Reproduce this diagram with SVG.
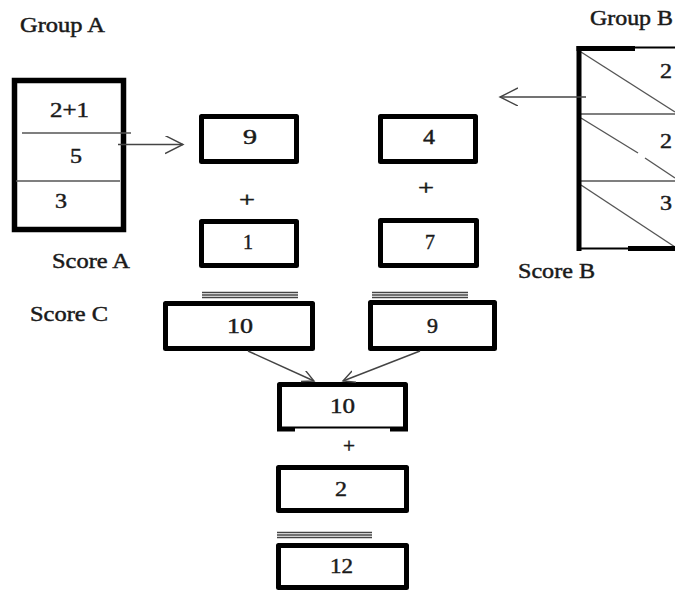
<svg xmlns="http://www.w3.org/2000/svg" width="675" height="592" viewBox="0 0 675 592">
<style>
text{font-family:"Liberation Serif","Times New Roman",serif;font-size:20px;fill:#1a1a1a;stroke:#1a1a1a;stroke-width:0.45}
.box{fill:#fff;stroke:#000;stroke-width:5;stroke-linejoin:round}
.thin{stroke:#555;stroke-width:1.4;fill:none}
.eq{stroke:#444;stroke-width:1.3}
.conn{stroke:#444;stroke-width:1.4;fill:none}
</style>
<defs>
<marker id="arr" markerWidth="20" markerHeight="20" refX="18" refY="9" orient="auto" markerUnits="userSpaceOnUse">
<path d="M0,0 L18,9 L0,18" fill="none" stroke="#444" stroke-width="1.4"/>
</marker>
<marker id="arr2" markerWidth="14" markerHeight="14" refX="12" refY="6" orient="auto" markerUnits="userSpaceOnUse">
<path d="M0,0 L12,6 L0,12" fill="none" stroke="#444" stroke-width="1.4"/>
</marker>
</defs>
<rect width="675" height="592" fill="#fff"/>

<g id="labels">
<text x="20" y="32" textLength="85" lengthAdjust="spacingAndGlyphs">Group A</text>
<text x="52" y="268" textLength="78" lengthAdjust="spacingAndGlyphs">Score A</text>
<text x="590" y="25" textLength="83" lengthAdjust="spacingAndGlyphs">Group B</text>
<text x="518" y="278" textLength="77" lengthAdjust="spacingAndGlyphs">Score B</text>
<text x="30" y="321" textLength="78" lengthAdjust="spacingAndGlyphs">Score C</text>
</g>

<g id="groupA">
<rect x="14.5" y="80.5" width="109" height="149" fill="#fff" stroke="#000" stroke-width="5.5"/>
<line class="thin" x1="22" y1="133" x2="131" y2="133"/>
<line class="thin" x1="16" y1="181" x2="120" y2="181"/>
<text x="50" y="117" textLength="39" lengthAdjust="spacingAndGlyphs">2+1</text>
<text x="70" y="163" textLength="12" lengthAdjust="spacingAndGlyphs">5</text>
<text x="55" y="208" textLength="12" lengthAdjust="spacingAndGlyphs">3</text>
</g>

<g id="groupB">
<line class="thin" x1="579" y1="114" x2="675" y2="114"/>
<line class="thin" x1="579" y1="181" x2="675" y2="181"/>
<line class="thin" x1="581" y1="52" x2="675" y2="112"/>
<line class="thin" x1="581" y1="118" x2="638" y2="153"/>
<line class="thin" x1="645" y1="158" x2="675" y2="178"/>
<line class="thin" x1="581" y1="185" x2="675" y2="247"/>
<line x1="579" y1="46" x2="579" y2="251" stroke="#000" stroke-width="5"/>
<line x1="576.5" y1="48.5" x2="635" y2="48.5" stroke="#000" stroke-width="5"/>
<line x1="635" y1="47.5" x2="675" y2="47.5" stroke="#000" stroke-width="2"/>
<line x1="579" y1="248.5" x2="628" y2="248.5" stroke="#000" stroke-width="2"/>
<line x1="628" y1="248.5" x2="675" y2="248.5" stroke="#000" stroke-width="5"/>
<text x="660" y="78" textLength="12" lengthAdjust="spacingAndGlyphs">2</text>
<text x="660" y="148" textLength="12" lengthAdjust="spacingAndGlyphs">2</text>
<text x="660" y="210" textLength="12" lengthAdjust="spacingAndGlyphs">3</text>
</g>

<g id="box9">
<rect class="box" x="201.5" y="116.5" width="95" height="45"/>
<text x="243" y="144" textLength="14" lengthAdjust="spacingAndGlyphs">9</text>
</g>
<g id="box4">
<rect class="box" x="380.5" y="116.5" width="95" height="45"/>
<text x="423" y="144" textLength="12" lengthAdjust="spacingAndGlyphs">4</text>
</g>
<g id="plusLeft"><text x="239" y="207" textLength="16" lengthAdjust="spacingAndGlyphs">+</text></g>
<g id="plusRight"><text x="418" y="195" textLength="16" lengthAdjust="spacingAndGlyphs">+</text></g>
<g id="box1">
<rect class="box" x="201.5" y="221.5" width="95" height="44"/>
<text x="243" y="249" textLength="10" lengthAdjust="spacingAndGlyphs">1</text>
</g>
<g id="box7">
<rect class="box" x="380.5" y="220.5" width="96" height="45"/>
<text x="425" y="249" textLength="10" lengthAdjust="spacingAndGlyphs">7</text>
</g>

<g id="box10a">
<line class="eq" x1="202" y1="292.5" x2="298" y2="292.5"/>
<line class="eq" x1="202" y1="295" x2="298" y2="295"/>
<line class="eq" x1="202" y1="297.5" x2="298" y2="297.5"/>
<rect class="box" x="165.5" y="303.5" width="147" height="45"/>
<text x="227" y="333" textLength="26" lengthAdjust="spacingAndGlyphs">10</text>
</g>
<g id="box9b">
<line class="eq" x1="372" y1="292.5" x2="468" y2="292.5"/>
<line class="eq" x1="372" y1="295" x2="468" y2="295"/>
<line class="eq" x1="372" y1="297.5" x2="468" y2="297.5"/>
<rect class="box" x="370.5" y="302.5" width="124" height="46"/>
<text x="427" y="333" textLength="11" lengthAdjust="spacingAndGlyphs">9</text>
</g>

<g id="box10b">
<path d="M279.5,431 L279.5,384.5 L405.5,384.5 L405.5,431" fill="#fff" stroke="#000" stroke-width="5" stroke-linejoin="round"/>
<line x1="279.5" y1="427.5" x2="405.5" y2="427.5" stroke="#000" stroke-width="2"/>
<line x1="277" y1="429.5" x2="295" y2="429.5" stroke="#000" stroke-width="4"/>
<line x1="390" y1="429.5" x2="408" y2="429.5" stroke="#000" stroke-width="4"/>
<text x="330" y="413" textLength="25" lengthAdjust="spacingAndGlyphs">10</text>
</g>
<g id="plusMid"><text x="343" y="453" textLength="12" lengthAdjust="spacingAndGlyphs">+</text></g>
<g id="box2">
<rect class="box" x="278.5" y="467.5" width="128" height="43"/>
<text x="335" y="496" textLength="12" lengthAdjust="spacingAndGlyphs">2</text>
</g>
<g id="box12">
<line class="eq" x1="277" y1="532.5" x2="372" y2="532.5"/>
<line class="eq" x1="277" y1="535" x2="372" y2="535"/>
<line class="eq" x1="277" y1="537.5" x2="372" y2="537.5"/>
<rect class="box" x="278.5" y="545.5" width="128" height="42"/>
<text x="330" y="573" textLength="23" lengthAdjust="spacingAndGlyphs">12</text>
</g>

<g id="connectors">
<line class="conn" x1="118" y1="144.5" x2="183" y2="144.5" marker-end="url(#arr)"/>
<line class="conn" x1="586" y1="97" x2="500" y2="97" marker-end="url(#arr)"/>
<line class="conn" x1="248" y1="351" x2="314" y2="381" marker-end="url(#arr2)"/>
<line class="conn" x1="420" y1="351" x2="343" y2="381" marker-end="url(#arr2)"/>
</g>
</svg>
